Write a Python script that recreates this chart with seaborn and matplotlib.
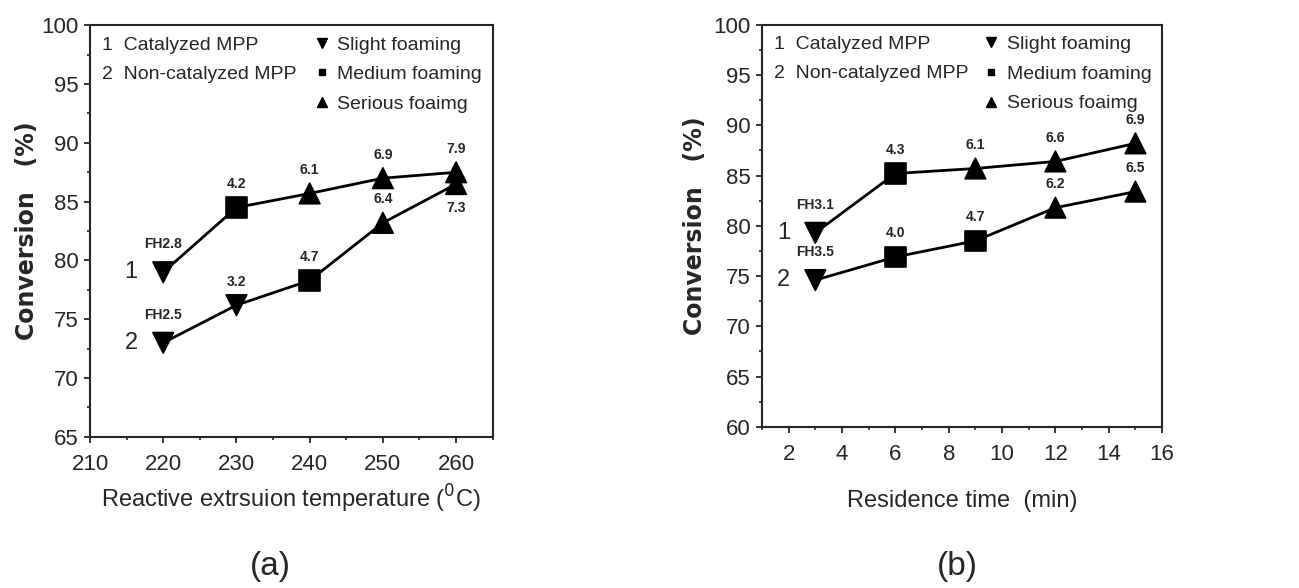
import numpy as np
import pandas as pd
import matplotlib
matplotlib.use("Agg")
import matplotlib.pyplot as plt
import seaborn as sns
from matplotlib.lines import Line2D
from matplotlib.ticker import MultipleLocator

# panel (a): temperature
temp = [220, 230, 240, 250, 260]
conv_a1 = [79.0, 84.5, 85.7, 87.0, 87.5]
conv_a2 = [73.0, 76.2, 78.3, 83.2, 86.5]
mark_a1 = ["Slight", "Medium", "Serious", "Serious", "Serious"]
mark_a2 = ["Slight", "Slight", "Medium", "Serious", "Serious"]
lab_a1 = ["FH2.8", "4.2", "6.1", "6.9", "7.9"]
lab_a2 = ["FH2.5", "3.2", "4.7", "6.4", "7.3"]

# panel (b): residence time
rtime = [3, 6, 9, 12, 15]
conv_b1 = [79.3, 85.2, 85.7, 86.4, 88.2]
conv_b2 = [74.6, 76.9, 78.5, 81.8, 83.4]
mark_b1 = ["Slight", "Medium", "Serious", "Serious", "Serious"]
mark_b2 = ["Slight", "Medium", "Medium", "Serious", "Serious"]
lab_b1 = ["FH3.1", "4.3", "6.1", "6.6", "6.9"]
lab_b2 = ["FH3.5", "4.0", "4.7", "6.2", "6.5"]

markers = {"Slight": "v", "Medium": "s", "Serious": "^"}

sns.set_style("ticks")
plt.rcParams["font.family"] = ["Liberation Sans", "DejaVu Sans"]


def make_df(x, y1, y2, m1, m2):
    df1 = pd.DataFrame({"x": x, "y": y1, "foam": m1, "series": "1"})
    df2 = pd.DataFrame({"x": x, "y": y2, "foam": m2, "series": "2"})
    return pd.concat([df1, df2], ignore_index=True)


def draw_panel(ax, df, labels1, labels2, below_last2=False):
    for s, labs in [("1", labels1), ("2", labels2)]:
        d = df[df["series"] == s]
        sns.lineplot(data=d, x="x", y="y", color="black", lw=2, ax=ax, legend=False)
        sns.scatterplot(data=d, x="x", y="y", style="foam", markers=markers,
                        color="black", s=220, edgecolor="black", ax=ax, legend=False, zorder=3)
        for i, (xx, yy, t) in enumerate(zip(d["x"], d["y"], labs)):
            if below_last2 and s == "2" and i == len(labs) - 1:
                ax.annotate(t, (xx, yy), xytext=(0, -17), textcoords="offset points",
                            ha="center", va="center", fontsize=10, fontweight="bold")
            else:
                off = 20 if t.startswith("FH") else 17
                ax.annotate(t, (xx, yy), xytext=(0, off), textcoords="offset points",
                            ha="center", va="center", fontsize=10, fontweight="bold")
        first = d.iloc[0]
        ax.annotate(s, (first["x"], first["y"]), xytext=(-23, 0), textcoords="offset points",
                    ha="center", va="center", fontsize=17)


def legends(ax, y1, y2):
    ax.text(0.03, y1, "1  Catalyzed MPP", transform=ax.transAxes, fontsize=14, va="center")
    ax.text(0.03, y2, "2  Non-catalyzed MPP", transform=ax.transAxes, fontsize=14, va="center")
    handles = [Line2D([], [], ls="", marker="v", color="black", markersize=7, label="Slight foaming"),
               Line2D([], [], ls="", marker="s", color="black", markersize=5, label="Medium foaming"),
               Line2D([], [], ls="", marker="^", color="black", markersize=7, label="Serious foaimg")]
    ax.legend(handles=handles, loc="upper right", frameon=False, fontsize=14,
              handletextpad=0.2, labelspacing=0.62, borderaxespad=0.25,
              borderpad=0.3, handlelength=1.2)


def style_axes(ax, ypad):
    for sp in ax.spines.values():
        sp.set_linewidth(1.5)
        sp.set_visible(True)
    ax.tick_params(axis="x", which="major", direction="out", length=4, width=1.3,
                   labelsize=16, pad=8)
    ax.tick_params(axis="y", which="major", direction="out", length=4, width=1.3,
                   labelsize=16, pad=4)
    ax.tick_params(which="minor", direction="out", length=2.5, width=1.2)
    ax.set_ylabel("Conversion   (%)", fontsize=17, fontweight="bold",
                  family="DejaVu Sans", labelpad=ypad)


fig = plt.figure(figsize=(12.99, 5.88), dpi=100)
ax1 = fig.add_axes([0.0693, 0.257, 0.310, 0.700])
ax2 = fig.add_axes([0.5866, 0.274, 0.308, 0.684])

df_a = make_df(temp, conv_a1, conv_a2, mark_a1, mark_a2)
draw_panel(ax1, df_a, lab_a1, lab_a2, below_last2=True)
ax1.set_xlim(210, 265)
ax1.set_ylim(65, 100)
ax1.xaxis.set_major_locator(MultipleLocator(10))
ax1.xaxis.set_minor_locator(MultipleLocator(5))
ax1.yaxis.set_major_locator(MultipleLocator(5))
ax1.yaxis.set_minor_locator(MultipleLocator(2.5))
style_axes(ax1, 2)
ax1.set_xlabel("Reactive extrsuion temperature ($^0$C)", fontsize=17, labelpad=6)
legends(ax1, 0.95, 0.88)

df_b = make_df(rtime, conv_b1, conv_b2, mark_b1, mark_b2)
draw_panel(ax2, df_b, lab_b1, lab_b2)
ax2.set_xlim(1, 16)
ax2.set_ylim(60, 100)
ax2.xaxis.set_major_locator(MultipleLocator(2))
ax2.xaxis.set_minor_locator(MultipleLocator(1))
ax2.yaxis.set_major_locator(MultipleLocator(5))
ax2.yaxis.set_minor_locator(MultipleLocator(2.5))
style_axes(ax2, 5)
ax2.set_xlabel("Residence time  (min)", fontsize=17, labelpad=18)
legends(ax2, 0.95, 0.878)

fig.text(0.208, 0.036, "(a)", fontsize=24, ha="center", va="center")
fig.text(0.737, 0.036, "(b)", fontsize=24, ha="center", va="center")

fig.savefig("out.png", dpi=100)
